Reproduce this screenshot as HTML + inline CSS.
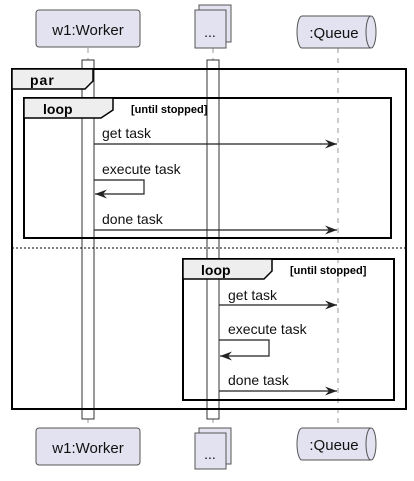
<!DOCTYPE html>
<html><head><style>
body{margin:0;background:#fff;}
text{font-family:"Liberation Sans",sans-serif;}
</style></head><body>
<svg width="414" height="476" xmlns="http://www.w3.org/2000/svg">
<defs>
<marker id="a" markerWidth="13" markerHeight="11" refX="12" refY="5.5" orient="auto" markerUnits="userSpaceOnUse">
<path d="M0,1 L12,5.5 L0,10 L4,5.5 Z" fill="#222"/>
</marker>
</defs>
<g stroke="#999" stroke-dasharray="5,5" stroke-width="1">
<line x1="88" y1="48" x2="88" y2="428"/>
<line x1="213" y1="48" x2="213" y2="428"/>
<line x1="338" y1="48" x2="338" y2="428"/>
</g>
<rect x="36" y="10" width="104" height="37" rx="3" fill="#e2e2f0" stroke="#555"/>
<text x="88" y="35" font-size="15" text-anchor="middle" fill="#111">w1:Worker</text>
<rect x="199" y="5" width="32" height="37" fill="#e2e2f0" stroke="#555"/>
<rect x="195" y="10" width="31" height="38" fill="#e2e2f0" stroke="#555"/>
<text x="210" y="37" font-size="14" text-anchor="middle" fill="#111">...</text>
<path d="M302,16 H371 A5,16 0 0 1 371,48 H302 A5,16 0 0 1 302,16 Z" fill="#e2e2f0" stroke="#555"/>
<path d="M371,16 A5,16 0 0 0 371,48" fill="none" stroke="#555"/>
<text x="334" y="38" font-size="15" text-anchor="middle" fill="#111">:Queue</text>
<rect x="36" y="428" width="104" height="37" rx="3" fill="#e2e2f0" stroke="#555"/>
<text x="88" y="453" font-size="15" text-anchor="middle" fill="#111">w1:Worker</text>
<rect x="199" y="428" width="32" height="36" fill="#e2e2f0" stroke="#555"/>
<rect x="195" y="433" width="31" height="36" fill="#e2e2f0" stroke="#555"/>
<text x="210" y="459" font-size="14" text-anchor="middle" fill="#111">...</text>
<path d="M302,428 H371 A5,16 0 0 1 371,460 H302 A5,16 0 0 1 302,428 Z" fill="#e2e2f0" stroke="#555"/>
<path d="M371,428 A5,16 0 0 0 371,460" fill="none" stroke="#555"/>
<text x="334" y="450" font-size="15" text-anchor="middle" fill="#111">:Queue</text>
<rect x="82" y="60" width="12" height="359" fill="#fff" stroke="#333"/>
<rect x="207" y="60" width="12" height="359" fill="#fff" stroke="#333"/>
<rect x="12" y="69" width="394" height="340" fill="none" stroke="#000" stroke-width="2"/>
<path d="M12,69 H93 V81 L85,89 H12 Z" fill="#eee" stroke="#000" stroke-width="1.5"/>
<text x="30" y="85" font-size="14" font-weight="bold" letter-spacing="1" fill="#000">par</text>
<line x1="12" y1="248" x2="406" y2="248" stroke="#000" stroke-dasharray="2,2"/>
<rect x="24" y="98" width="367" height="140" fill="none" stroke="#000" stroke-width="2"/>
<path d="M24,98 H113 V110 L101,118 H24 Z" fill="#eee" stroke="#000" stroke-width="1.5"/>
<text x="43" y="114" font-size="14" font-weight="bold" fill="#000">loop</text>
<text x="131" y="113" font-size="11" font-weight="bold" fill="#000">[until stopped]</text>
<rect x="183" y="259" width="211" height="141" fill="none" stroke="#000" stroke-width="2"/>
<path d="M183,259 H272 V271 L264,279 H183 Z" fill="#eee" stroke="#000" stroke-width="1.5"/>
<text x="201" y="275" font-size="14" font-weight="bold" fill="#000">loop</text>
<text x="290" y="274" font-size="11" font-weight="bold" fill="#000">[until stopped]</text>
<g stroke="#222" stroke-width="1.2" fill="none">
<line x1="94" y1="144" x2="337" y2="144" marker-end="url(#a)"/>
<polyline points="94,180 144,180 144,194 95,194" marker-end="url(#a)"/>
<line x1="94" y1="230" x2="337" y2="230" marker-end="url(#a)"/>
<line x1="219" y1="305" x2="337" y2="305" marker-end="url(#a)"/>
<polyline points="219,340 269,340 269,356 220,356" marker-end="url(#a)"/>
<line x1="219" y1="391" x2="337" y2="391" marker-end="url(#a)"/>
</g>
<g font-size="14" fill="#111">
<text x="102" y="138">get task</text>
<text x="102" y="174">execute task</text>
<text x="102" y="224">done task</text>
<text x="228" y="300">get task</text>
<text x="228" y="334">execute task</text>
<text x="228" y="385">done task</text>
</g>
</svg>
</body></html>
